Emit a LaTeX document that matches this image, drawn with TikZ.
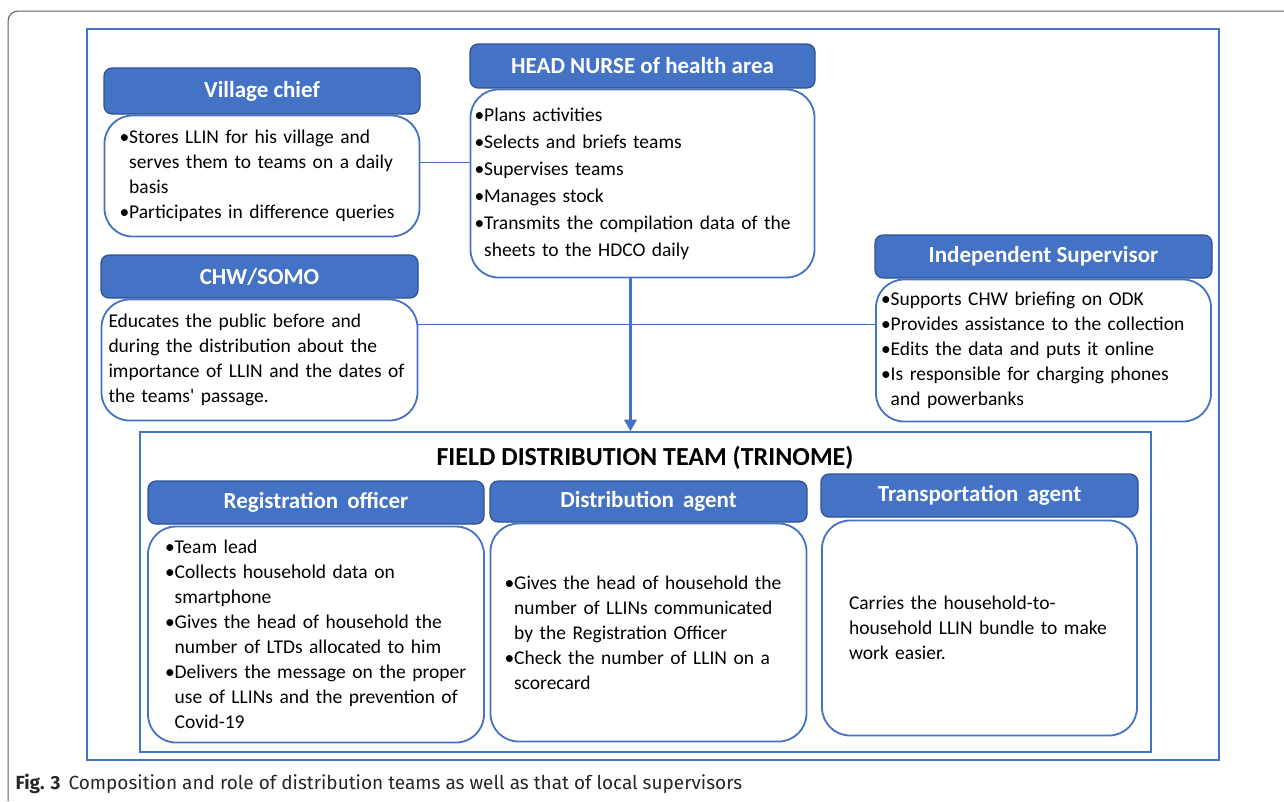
\documentclass[tikz,border=0pt]{standalone}
\usepackage{fontspec}
\setmainfont{Carlito}
\newfontfamily\bodyfont{Carlito}[WordSpace=0.6]
\newfontfamily\capfont{Fira Sans}
\usepackage{tikz}
\usetikzlibrary{arrows}
\usetikzlibrary{positioning}

\definecolor{headblue}{HTML}{4472C4}
\definecolor{headedge}{HTML}{2F528F}
\definecolor{lineblue}{HTML}{4472C4}
\definecolor{cardgray}{HTML}{5A5A5A}

\newcommand{\bl}{\textbullet}
\newcommand{\hg}{\hphantom{\textbullet}}

\begin{document}
\begin{tikzpicture}[x=1pt,y=-1pt,>=triangle 60,
  head box/.style={rectangle,draw=headedge,fill=headblue,line width=1.2pt,rounded corners=8pt,text=white,font=\fontsize{23}{26}\selectfont\bfseries,inner sep=0pt},
  body box/.style={rectangle,draw=lineblue,fill=white,line width=1.8pt,rounded corners=28pt,align=left,font=\bodyfont\fontsize{19.5}{25}\selectfont,inner sep=0pt},
  link/.style={draw=lineblue,line width=1.8pt},
  frame/.style={draw=lineblue,line width=2pt}]

  \useasboundingbox (0,0) rectangle (1284,801);
  \draw[cardgray,line width=1pt,rounded corners=10pt] (1284,11) -- (8,11) -- (8,801);
  \node[frame,minimum width=1132pt,minimum height=731pt] (outer) at (653,394.5) {};

  % local supervisors
  \node[head box,minimum width=316pt,minimum height=46pt] (chief) at (262,91) {Village chief};
  \node[body box,below=0pt of chief,minimum width=315pt,minimum height=121pt,text width=285pt] (chiefbody)
    {\bl Stores LLIN for his village and\\ \hg serves them to teams on a daily\\ \hg basis\\ \bl Participates in difference queries};

  \node[head box,minimum width=345pt,minimum height=44pt] (nurse) at (642.5,66) {HEAD NURSE of health area};
  \node[body box,below=0pt of nurse,minimum width=344pt,minimum height=188pt,text width=336pt,font=\bodyfont\fontsize{19.5}{27}\selectfont] (nursebody)
    {\bl Plans activities\\ \bl Selects and briefs teams\\ \bl Supervises teams\\ \bl Manages stock\\ \bl Transmits the compilation data of the\\ \hg sheets to the HDCO daily};

  \node[head box,minimum width=317pt,minimum height=43pt] (chw) at (259.5,276.5) {CHW/SOMO};
  \node[body box,below=0pt of chw,minimum width=316pt,minimum height=121pt,text width=302pt] (chwbody)
    {Educates the public before and\\ during the distribution about the\\ importance of LLIN and the dates of\\ the teams' passage.};

  \node[head box,minimum width=337pt,minimum height=43pt] (indep) at (1043.5,256.5) {Independent Supervisor};
  \node[body box,below=0pt of indep,minimum width=335pt,minimum height=142pt,text width=325pt] (indepbody)
    {\bl Supports CHW briefing on ODK\\ \bl Provides assistance to the collection\\ \bl Edits the data and puts it online\\ \bl Is responsible for charging phones\\ \hg and powerbanks};

  % field team
  \node[frame,minimum width=1011pt,minimum height=320pt] (field) at (645.5,592) {};
  \node[font=\fontsize{26}{30}\selectfont\bfseries] (fieldtitle) at (645,458) {FIELD DISTRIBUTION TEAM (TRINOME)};

  \node[head box,minimum width=336pt,minimum height=43pt] (reg) at (316,502.5) {Registration\, officer};
  \node[body box,below=1pt of reg,minimum width=336pt,minimum height=216pt,text width=302pt] (regbody)
    {\bl Team lead\\ \bl Collects household data on\\ \hg smartphone\\ \bl Gives the head of household the\\ \hg number of LTDs allocated to him\\ \bl Delivers the message on the proper\\ \hg use of LLINs and the prevention of\\ \hg Covid-19};

  \node[head box,minimum width=317pt,minimum height=41pt] (dist) at (648.5,501.5) {Distribution\, agent};
  \node[body box,below=0pt of dist,minimum width=316pt,minimum height=218pt,text width=288pt] (distbody)
    {\bl Gives the head of household the\\ \hg number of LLINs communicated\\ \hg by the Registration Officer\\ \bl Check the number of LLIN on a\\ \hg scorecard};

  \node[head box,minimum width=317pt,minimum height=43pt] (trans) at (979.5,495.5) {Transportation\, agent};
  \node[body box,below=2pt of trans,minimum width=315pt,minimum height=215pt,text width=261pt] (transbody)
    {Carries the household-to-\\ household LLIN bundle to make\\ work easier.};

  % connectors
  \draw[link] ([yshift=13.5pt]chiefbody.east) -- ([yshift=13.5pt]chiefbody.east -| nursebody.west);
  \draw[link] ([yshift=35.5pt]chwbody.east) -- ([yshift=35.5pt]chwbody.east -| indepbody.west);
  \draw[link,line width=2.2pt,->] ([xshift=-12pt]nursebody.south) -- ([xshift=-12pt]nursebody.south |- field.north);

  \node[anchor=base west,font=\capfont\fontsize{19}{22}\selectfont,text=black!85] (caption) at (12,789)
    {\textbf{Fig. 3}\hspace{8pt}Composition and role of distribution teams as well as that of local supervisors};
\end{tikzpicture}
\end{document}
